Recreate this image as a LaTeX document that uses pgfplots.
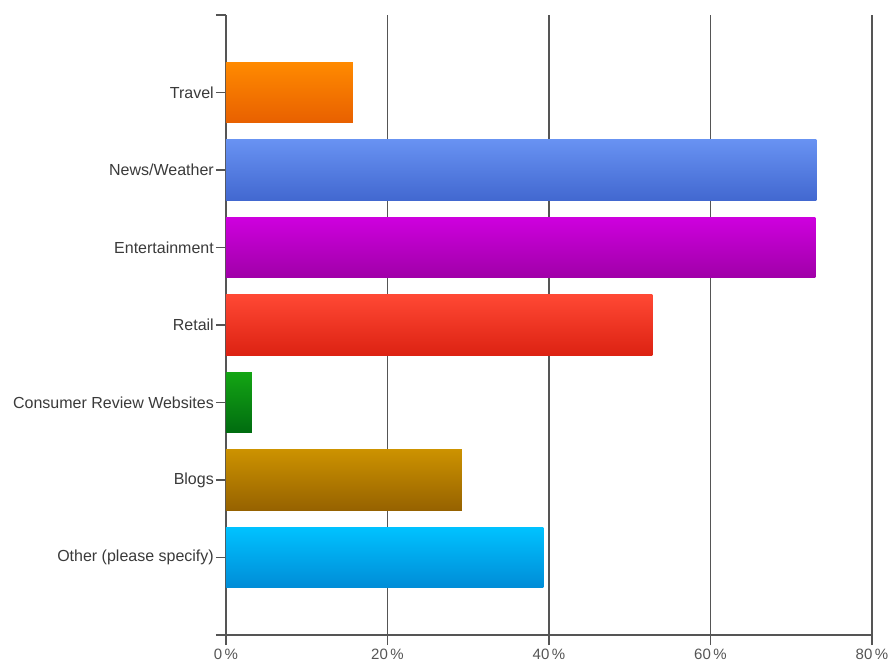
\documentclass[border=0pt]{standalone}
\usepackage{pgfplots}
\pgfplotsset{compat=1.18}
\usepackage{fontspec}
\setmainfont{Liberation Sans}
\definecolor{txt}{HTML}{3A3A3A}
\definecolor{gridc}{HTML}{555555}
\begin{document}
\begin{tikzpicture}
\begin{axis}[
  scale only axis,
  width=646pt, height=620pt,
  xmin=0, xmax=80, ymin=0, ymax=8,
  axis x line*=bottom, axis y line*=left,
  axis line style={gridc, line width=1.3pt},
  xtick={0,20,40,60,80},
  xticklabel={\pgfmathprintnumber{\tick}\,\%},
  ytick={0,1,2,3,4,5,6,7,8},
  yticklabels={,Other (please specify),Blogs,Consumer Review Websites,Retail,Entertainment,News/Weather,Travel,},
  tick align=outside,
  major tick length=10pt,
  tick style={gridc, line width=1.2pt},
  xmajorgrids,
  major grid style={gridc, line width=1.3pt},
  yticklabel style={font=\fontsize{16}{19}\selectfont, text=txt, inner xsep=2pt},
  xticklabel style={font=\fontsize{15}{18}\selectfont, text={rgb,255:red,85;green,85;blue,85}},
  /pgf/number format/assume math mode=true,
  xbar, bar width=0.78, bar shift=0pt,
  clip=false,
]
\addplot[draw=none, top color={rgb,255:red,0;green,194;blue,255}, bottom color={rgb,255:red,0;green,140;blue,215}] coordinates {(39.3,1)};
\addplot[draw=none, top color={rgb,255:red,204;green,146;blue,0}, bottom color={rgb,255:red,150;green,98;blue,0}] coordinates {(29.2,2)};
\addplot[draw=none, top color={rgb,255:red,20;green,165;blue,20}, bottom color={rgb,255:red,0;green,108;blue,16}] coordinates {(3.2,3)};
\addplot[draw=none, top color={rgb,255:red,255;green,72;blue,52}, bottom color={rgb,255:red,220;green,34;blue,18}] coordinates {(52.8,4)};
\addplot[draw=none, top color={rgb,255:red,206;green,0;blue,222}, bottom color={rgb,255:red,160;green,0;blue,168}] coordinates {(73.0,5)};
\addplot[draw=none, top color={rgb,255:red,104;green,146;blue,242}, bottom color={rgb,255:red,66;green,104;blue,208}] coordinates {(73.1,6)};
\addplot[draw=none, top color={rgb,255:red,255;green,138;blue,0}, bottom color={rgb,255:red,232;green,96;blue,0}] coordinates {(15.7,7)};
\end{axis}
\pgfresetboundingbox
\path[use as bounding box] (current axis.south west) ++(-226pt,-27pt) rectangle ++(889pt,662pt);
\end{tikzpicture}
\end{document}
